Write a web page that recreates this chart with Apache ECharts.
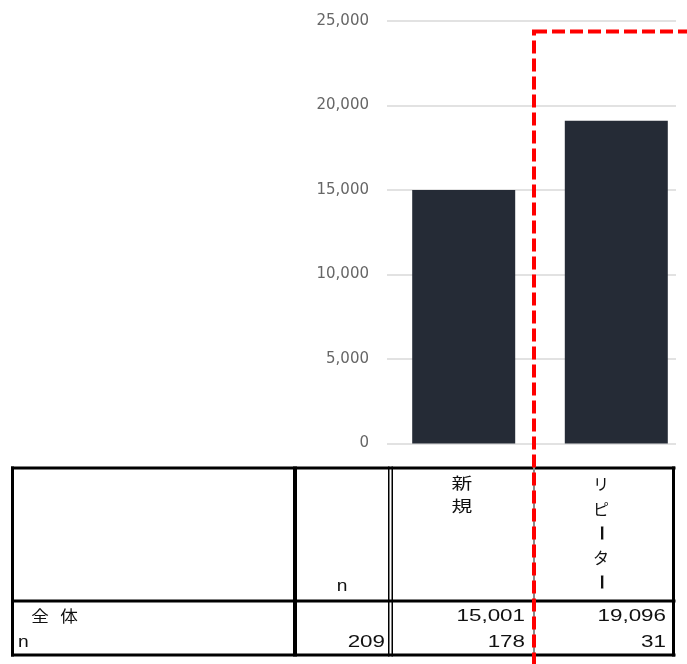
<!DOCTYPE html>
<html>
<head>
<meta charset="utf-8">
<script src="https://cdn.jsdelivr.net/npm/echarts@6/dist/echarts.min.js"></script>
<style>html,body{margin:0;padding:0;background:#fff;}#c{width:687px;height:664px;}</style>
</head>
<body>
<div id="c"></div>
<script>
const categories = ['新規', 'リピーター'];
const values = [15001, 19096];
const counts = [178, 31];
const totalN = 209;
const rowLabel = '全 体';
const nLabel = 'n';
const yMin = 0, yMax = 25000, yInterval = 5000;

const chart = echarts.init(document.getElementById('c'), null, {renderer: 'canvas'});
const fmt = v => v.toLocaleString('en-US');

const g = [];
function rect(x, y, w, h, fill) {
  g.push({type: 'rect', z: 10, shape: {x, y, width: w, height: h}, style: {fill}});
}
function txt(t, x, y, opt) {
  opt = opt || {};
  g.push({
    type: 'text', z: 11, x, y, scaleX: opt.sx || 1, scaleY: 1, rotation: opt.rot || 0,
    style: {
      text: t, x: 0, y: 0,
      fontSize: opt.size || 16,
      fontFamily: opt.font || '"Liberation Sans", Arial, sans-serif',
      fontWeight: opt.weight || 'normal',
      fill: '#111',
      align: opt.align || 'left',
      verticalAlign: 'middle'
    }
  });
}
// table lines
rect(11, 466.5, 664.5, 3, '#000');
rect(11, 599.5, 664.5, 3, '#000');
rect(11, 653.5, 664.5, 3, '#000');
rect(11, 466.5, 3, 190, '#000');
rect(293, 466.5, 4, 190, '#000');
rect(388, 466.5, 1.5, 190, '#000');
rect(391.5, 466.5, 1.5, 190, '#000');
rect(533, 466.5, 2, 190, '#888');
rect(672, 466.5, 3, 190, '#000');

const cjk = '"Noto Sans CJK JP", sans-serif';
// header
txt(nLabel, 342, 587, {align: 'center', sx: 1.2});
const headerX = [462, 601];
const headerStartY = [483, 484];
const headerStep = [23, 24.5];
categories.forEach((c, i) => {
  [...c].forEach((ch, k) => {
    const y = headerStartY[i] + k * headerStep[i];
    if (ch === 'ー') {
      txt(ch, headerX[i] + 1, y, {font: cjk, size: 16, weight: 'bold', align: 'center', rot: -Math.PI / 2});
    } else {
      txt(ch, headerX[i], y, {font: cjk, size: 16, align: 'center', sx: i === 0 ? 1.3 : 1.0});
    }
  });
});
// rows
const rowParts = rowLabel.split(' ');
const rowPartX = [40, 69];
rowParts.forEach((p, i) => txt(p, rowPartX[i], 616, {font: cjk, size: 16, align: 'center', sx: 1.1}));
txt(nLabel, 18, 643, {sx: 1.2});
txt(fmt(totalN), 385, 643, {align: 'right', sx: 1.4});
const colRight = [525, 666];
values.forEach((v, i) => {
  txt(fmt(v), colRight[i], 617, {align: 'right', sx: 1.4});
  txt(fmt(counts[i]), colRight[i], 643, {align: 'right', sx: 1.4});
});
// red dashed frame
g.push({
  type: 'rect', z: 20,
  shape: {x: 534, y: 31.5, width: 300, height: 800},
  style: {fill: null, stroke: '#ff0000', lineWidth: 4, lineDash: [13, 5]}
});

// bar grid: category i sits at x = i on a value axis (category width 152.6px)
const barLeft = 387.4, catW = 152.6, barGridW = 687 - barLeft;
const barData = values.map((v, i) => [i, v]);

chart.setOption({
  animation: false,
  backgroundColor: '#fff',
  grid: [
    {left: 387, top: 21, width: 289, height: 422.5},
    {left: barLeft, top: 21, width: barGridW, height: 422.5}
  ],
  xAxis: [
    {gridIndex: 0, type: 'category', data: categories, show: false},
    {gridIndex: 1, type: 'value', min: -0.5, max: -0.5 + barGridW / catW, show: false, splitLine: {show: false}}
  ],
  yAxis: [
    {
      gridIndex: 0, type: 'value', min: yMin, max: yMax, interval: yInterval,
      axisLine: {show: false}, axisTick: {show: false},
      axisLabel: {color: '#666', fontSize: 15, fontFamily: '"DejaVu Sans", sans-serif', margin: 18,
        formatter: v => fmt(v)},
      splitLine: {lineStyle: {color: '#d9d9d9', width: 1.5}}
    },
    {gridIndex: 1, type: 'value', min: yMin, max: yMax, interval: yInterval, show: false,
      splitLine: {show: false}}
  ],
  series: [{
    type: 'bar', xAxisIndex: 1, yAxisIndex: 1, data: barData, barWidth: 103,
    itemStyle: {color: '#252b36'}
  }],
  graphic: g
});
</script>
</body>
</html>
